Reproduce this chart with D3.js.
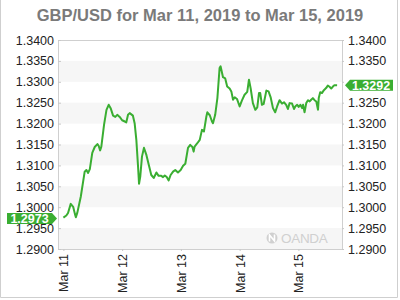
<!DOCTYPE html>
<html>
<head>
<meta charset="utf-8">
<script src="https://cdn.jsdelivr.net/npm/d3@7"></script>
<style>
  body { margin: 0; background: #fff; }
  svg { display: block; font-family: "Liberation Sans", Arial, sans-serif; }
  .axis path { display: none; }
  .axis line { stroke: #c8c8c8; }
  .axis text { fill: #222; font-size: 12.5px; }
</style>
</head>
<body>
<div id="chart"></div>
<script>
// hours after Mar 11 2019 00:00 and GBP/USD rate
const hours = [0, 1.2, 1.9, 3.0, 4.0, 4.7, 5.1, 5.7, 7.1, 8.7, 9.4, 10.1, 10.8, 11.8, 12.8, 13.9, 14.4, 15.0, 15.5,
  16.6, 17.6, 18.5, 19.3, 20.3, 21.2, 22.0, 23.0, 24.0, 25.1, 25.7, 26.4, 27.1, 28.4, 29.1, 29.8, 30.5, 30.9,
  31.4, 32.1, 32.9, 33.9, 34.9, 35.9, 36.9, 38.0, 38.9, 40.0, 40.7, 41.4, 42.2, 43.0, 43.8, 44.8, 45.7, 46.8,
  47.9, 48.9, 49.8, 50.9, 51.8, 52.7, 53.2, 53.6, 54.7, 55.7, 56.6, 57.4, 58.4, 58.8, 59.8, 60.7, 61.1, 62.0,
  62.9, 63.8, 64.2, 65.2, 66.1, 66.9, 67.9, 68.6, 69.3, 70.0, 70.9, 72.0, 72.9, 74.0, 75.1, 75.8, 76.5, 77.4,
  78.4, 79.2, 79.9, 80.4, 81.1, 81.8, 82.9, 83.8, 84.7, 85.6, 86.5, 87.3, 88.3, 89.3, 90.1, 91.0, 91.7, 92.4,
  93.4, 94.2, 94.7, 95.5, 96.1, 96.8, 97.5, 97.9, 98.5, 99.2, 99.9, 100.6, 101.2, 101.9, 102.6, 103.3, 104.0,
  104.3, 104.9, 105.6, 106.4, 107.3, 108.0, 108.7, 109.4, 110.0, 110.7, 111.8];
const rates = [1.2975, 1.2980, 1.2986, 1.3008, 1.3001, 1.2984, 1.2976, 1.2987, 1.3025, 1.3085, 1.3089, 1.3082,
  1.3091, 1.3130, 1.3144, 1.3151, 1.3147, 1.3136, 1.3145, 1.3197, 1.3233, 1.3245, 1.3237, 1.3219, 1.3216,
  1.3221, 1.3216, 1.3208, 1.3205, 1.3203, 1.3221, 1.3225, 1.3219, 1.3201, 1.3161, 1.3097, 1.3056, 1.3073,
  1.3121, 1.3142, 1.3125, 1.3101, 1.3077, 1.3070, 1.3083, 1.3075, 1.3075, 1.3072, 1.3076, 1.3072, 1.3064,
  1.3077, 1.3085, 1.3089, 1.3083, 1.3089, 1.3099, 1.3104, 1.3142, 1.3149, 1.3144, 1.3133, 1.3145, 1.3153,
  1.3161, 1.3185, 1.3181, 1.3217, 1.3227, 1.3220, 1.3205, 1.3201, 1.3221, 1.3261, 1.3333, 1.3337, 1.3311,
  1.3308, 1.3289, 1.3284, 1.3277, 1.3257, 1.3263, 1.3259, 1.3241, 1.3255, 1.3269, 1.3276, 1.3305, 1.3284,
  1.3249, 1.3233, 1.3239, 1.3273, 1.3273, 1.3245, 1.3247, 1.3279, 1.3277, 1.3262, 1.3237, 1.3227, 1.3241,
  1.3256, 1.3248, 1.3251, 1.3245, 1.3235, 1.3249, 1.3248, 1.3235, 1.3241, 1.3245, 1.3240, 1.3245, 1.3237,
  1.3245, 1.3227, 1.3249, 1.3256, 1.3253, 1.3257, 1.3261, 1.3256, 1.3253, 1.3233, 1.3261, 1.3275, 1.3273,
  1.3280, 1.3285, 1.3291, 1.3288, 1.3284, 1.3288, 1.3292, 1.3292];
const yTicks = [1.29, 1.295, 1.30, 1.305, 1.31, 1.315, 1.32, 1.325, 1.33, 1.335, 1.34];
const dayTicks = ["2019-03-11", "2019-03-12", "2019-03-13", "2019-03-14", "2019-03-15"];
const openRate = 1.2973;
const lastRate = 1.3292;
const title = "GBP/USD for Mar 11, 2019 to Mar 15, 2019";

const W = 400, H = 300;
const margin = {top: 40, left: 58, right: 58, bottom: 51};
const start = Date.UTC(2019, 2, 11);
const hr = 3600 * 1000;
const data = hours.map((h, i) => ({t: new Date(start + h * hr), v: rates[i]}));

const svg = d3.select("#chart").append("svg")
  .attr("width", W).attr("height", H);

// outer frame (no top edge)
svg.append("path")
  .attr("d", `M0.5,0 V297.5 H397.5 V0`)
  .attr("fill", "none").attr("stroke", "#cfcfcf");

svg.append("text")
  .attr("x", W / 2).attr("y", 21)
  .attr("text-anchor", "middle")
  .style("font-size", "16.5px").style("font-weight", "bold").style("fill", "#7a7a7a")
  .text(title);

const x = d3.scaleUtc()
  .domain([new Date(start - 2.2 * hr), new Date(start + 113.8 * hr)])
  .range([margin.left, W - margin.right]);
const y = d3.scaleLinear()
  .domain([1.29, 1.34])
  .range([H - margin.bottom, margin.top]);

// alternating bands
const bands = yTicks.slice(0, -1).filter((d, i) => i % 2 === 0);
svg.append("g").selectAll("rect")
  .data(bands)
  .enter().append("rect")
  .attr("x", x.range()[0]).attr("width", x.range()[1] - x.range()[0])
  .attr("y", d => y(d + 0.005)).attr("height", d => y(d) - y(d + 0.005))
  .attr("fill", "#f6f6f6");

// watermark
const wm = svg.append("g").attr("fill", "#d0d0d0");
wm.append("circle").attr("cx", 272).attr("cy", 238).attr("r", 5.5);
wm.append("path").attr("d", "M269.5,241.5 L269.5,235 L274.5,241 L274.5,234.5")
  .attr("stroke", "#fff").attr("stroke-width", 1.6).attr("fill", "none");
wm.append("text").attr("x", 281).attr("y", 243)
  .style("font-size", "13.5px").style("letter-spacing", "-0.3px").text("OANDA");

// plot frame
svg.append("rect")
  .attr("x", x.range()[0] + 0.5).attr("y", y.range()[1] + 0.5)
  .attr("width", x.range()[1] - x.range()[0]).attr("height", y.range()[0] - y.range()[1])
  .attr("fill", "none").attr("stroke", "#cfcfcf");

const fmt = d3.format(".4f");
// labels sitting under a price tag are hidden, as in the original
const hideNear = v => t => Math.abs(y(t) - y(v)) < 5 ? 0 : 1;
svg.append("g").attr("class", "axis")
  .attr("transform", `translate(${margin.left},0)`)
  .call(d3.axisLeft(y).tickValues(yTicks).tickFormat(fmt).tickSize(-3).tickPadding(4))
  .selectAll("text").attr("opacity", hideNear(openRate));
svg.append("g").attr("class", "axis")
  .attr("transform", `translate(${W - margin.right},0)`)
  .call(d3.axisRight(y).tickValues(yTicks).tickFormat(fmt).tickSize(2).tickPadding(4))
  .selectAll("text").attr("opacity", hideNear(lastRate));

const xAxis = svg.append("g").attr("class", "axis")
  .attr("transform", `translate(0,${H - margin.bottom})`)
  .call(d3.axisBottom(x).tickValues(dayTicks.map(d => new Date(d + "T00:00:00Z")))
    .tickFormat(d3.utcFormat("Mar %-d")).tickSize(2).tickPadding(0));
xAxis.selectAll("text")
  .attr("transform", "rotate(-90)")
  .attr("text-anchor", "end")
  .attr("x", -5).attr("y", 0).attr("dy", "0.35em");

// price line
const green = "#3aae32";
svg.append("path")
  .datum(data)
  .attr("fill", "none")
  .attr("stroke", green)
  .attr("stroke-width", 2)
  .attr("stroke-linejoin", "round")
  .attr("d", d3.line().x(d => x(d.t)).y(d => y(d.v)));

// price tags
function tag(val, side) {
  const cy = y(val);
  const g = svg.append("g");
  let pts;
  if (side === "left") {
    const tip = margin.left - 1;
    pts = [[7, cy - 5.5], [tip - 5, cy - 5.5], [tip, cy], [tip - 5, cy + 5.5], [7, cy + 5.5]];
  } else {
    const tip = W - margin.right + 3;
    pts = [[tip, cy], [tip + 5, cy - 5.5], [393, cy - 5.5], [393, cy + 5.5], [tip + 5, cy + 5.5]];
  }
  g.append("polygon").attr("points", pts.map(p => p.join(",")).join(" ")).attr("fill", green);
  g.append("text")
    .attr("x", side === "left" ? 29.5 : 371).attr("y", cy).attr("dy", "0.36em")
    .attr("text-anchor", "middle")
    .style("font-size", "12.5px").style("font-weight", "bold").style("fill", "#fff")
    .text(fmt(val));
}
tag(openRate, "left");
tag(lastRate, "right");
</script>
</body>
</html>
